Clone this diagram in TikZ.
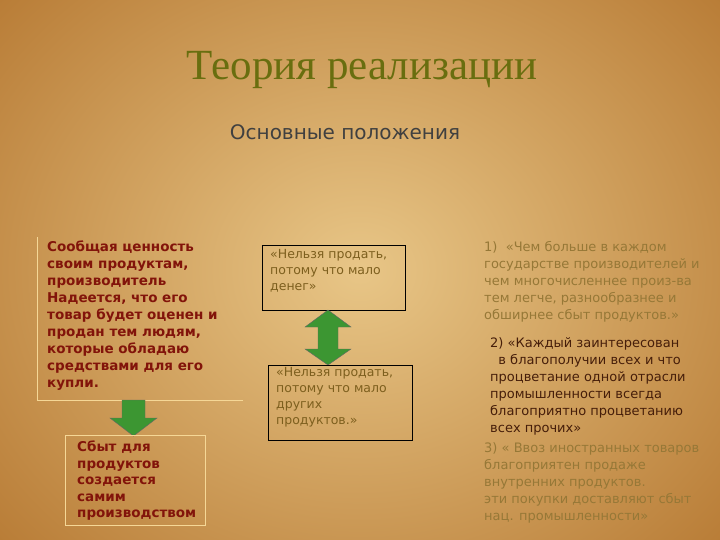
\documentclass[tikz,border=0pt]{standalone}
\usepackage{fontspec}
\setmainfont{Liberation Serif}
\newfontfamily\vf{DejaVu Sans}
\definecolor{bgin}{RGB}{232,198,135}
\definecolor{bgout}{RGB}{185,125,55}
\definecolor{titlec}{RGB}{105,110,15}
\definecolor{redt}{RGB}{130,20,10}
\definecolor{olivet}{RGB}{125,95,30}
\definecolor{fadet}{RGB}{150,120,55}
\definecolor{darkt}{RGB}{70,30,10}
\definecolor{lightb}{RGB}{245,215,150}
\definecolor{arrowg}{RGB}{60,150,50}
\tikzset{
 txt/.style={anchor=north west,inner sep=0pt,align=left,font=\vf\fontsize{13}{17}\selectfont},
 blk/.style={draw=black,line width=0.9pt},
 lbox/.style={draw=lightb,line width=0.6pt},
 garrow/.style={fill=arrowg,draw=black!60,line width=0.4pt}
}
\begin{document}
\begin{tikzpicture}[x=1pt,y=-1pt]
\useasboundingbox (0,0) rectangle (720,540);
\fill[bgout] (0,0) rectangle (720,540);
\shade[inner color=bgin,outer color=bgout] (-120,-140) rectangle (840,680);
\node[font=\fontsize{43}{47}\selectfont,text=titlec] (title) at (362,70) {Теория реализации};
\node[font=\vf\fontsize{20}{24}\selectfont,text=black!75] (sub) at (345,132) {Основные положения};
% left box
\draw[lbox] (37,237) -- (37,400) -- (243,400);
\node[txt,font=\vf\bfseries\fontsize{13.5}{17}\selectfont,text=redt] (lt) at (47,241) {Сообщая ценность\\своим продуктам,\\производитель\\Надеется, что его\\товар будет оценен и\\продан тем людям,\\которые обладаю\\средствами для его\\купли.};
\draw[garrow] (122,400) -- (145,400) -- (145,418) -- (157,418) -- (133.5,436) -- (110,418) -- (122,418) -- cycle;
\draw[lbox] (65,435) rectangle (205,525);
\node[txt,font=\vf\bfseries\fontsize{13.5}{16.5}\selectfont,text=redt] (bt) at (77,441) {Сбыт для\\продуктов\\создается\\самим\\производством};
% middle
\draw[blk] (262,245) rectangle (405,310);
\node[txt,text=olivet,font=\vf\fontsize{12.5}{16}\selectfont] (m1) at (270,249) {«Нельзя продать,\\потому что мало\\денег»};
\draw[garrow] (318,327) -- (305,327) -- (328,310) -- (351,327) -- (338,327) -- (338,349) -- (351,349) -- (328,365) -- (305,349) -- (318,349) -- cycle;
\draw[blk] (268,365) rectangle (412,440);
\node[txt,text=olivet,font=\vf\fontsize{12.5}{16}\selectfont] (m2) at (276,367) {«Нельзя продать,\\потому что мало\\других\\продуктов.»};
% right
\node[txt,text=fadet] (r1) at (484,241) {1)\ \ «Чем больше в каждом\\государстве производителей и\\чем многочисленнее произ-ва\\тем легче, разнообразнее и\\обширнее сбыт продуктов.»};
\node[txt,text=darkt] (r2) at (490,337) {2) «Каждый заинтересован\\\ \ в благополучии всех и что\\процветание одной отрасли\\промышленности всегда\\благоприятно процветанию\\всех прочих»};
\node[txt,text=fadet] (r3) at (484,442) {3) « Ввоз иностранных товаров\\благоприятен продаже\\внутренних продуктов.\\эти покупки доставляют сбыт\\нац. промышленности»};
\end{tikzpicture}
\end{document}
